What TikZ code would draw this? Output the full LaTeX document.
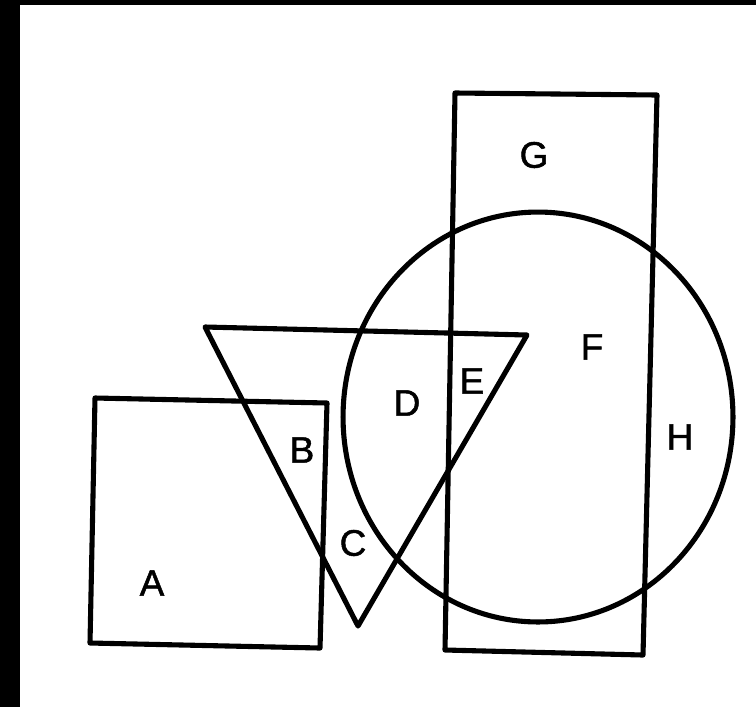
\documentclass[tikz,border=0pt]{standalone}
\usepackage{fontspec}
\newfontfamily\labelfont[FakeBold=1.3]{Liberation Sans}
\usetikzlibrary{calc}

\begin{document}
\begin{tikzpicture}[
    x=0.02cm, y=-0.02cm,
    every node/.style={font=\labelfont\fontsize{21}{24}\selectfont},
    outline/.style={draw=black, line width=2.9pt, line join=round},
    tag/.style={inner sep=0pt, anchor=center}
]
\useasboundingbox (0,0) rectangle (756,707);
% Dark edges of the scan
\fill[black] (0,0) rectangle (20,707);
\fill[black] (0,0) rectangle (756,5);
% Square, tall rectangle, circle, triangle
\draw[outline] (95,398) -- (327,403) -- (320,648) -- (90,643) -- cycle;
\draw[outline] (455,93) -- (657,95) -- (643,655) -- (445,650) -- cycle;
\draw[outline] (538,417) ellipse [x radius=3.9cm, y radius=4.1cm];
\draw[outline] (205,327) -- (527,335) -- (358,626) -- cycle;
% Region labels
\node[tag] (labA) at (152,583) {A};
\node[tag] (labB) at (302,450) {B};
\node[tag] (labC) at (353,543) {C};
\node[tag] (labD) at (407,403) {D};
\node[tag] (labE) at (472,381) {E};
\node[tag] (labF) at (592,347) {F};
\node[tag] (labG) at (534,155) {G};
\node[tag] (labH) at (680,437) {H};
\end{tikzpicture}
\end{document}
